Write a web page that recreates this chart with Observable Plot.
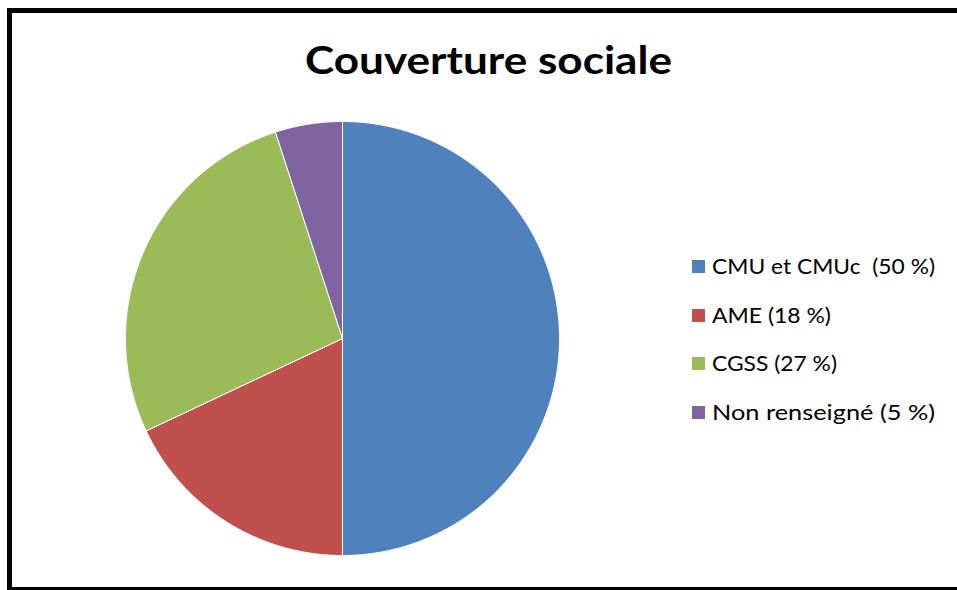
<!DOCTYPE html>
<html>
<head>
<meta charset="utf-8">
<script src="https://cdn.jsdelivr.net/npm/d3@7"></script>
<script src="https://cdn.jsdelivr.net/npm/@observablehq/plot@0.6"></script>
<style>
  html, body { margin: 0; padding: 0; background: #fff; overflow: hidden; width: 957px; height: 590px; }
  #wrap { position: relative; width: 957px; height: 590px; }
  #frame { position: absolute; left: 7px; top: 8px; width: 970px; height: 574px; border: 5px solid #000; box-sizing: content-box; pointer-events: none; }
  #title { position: absolute; left: 305px; top: 36px; font-family: Lato, "Open Sans", sans-serif; font-weight: 700; font-size: 39px; line-height: 46px; color: #000; white-space: pre; transform-origin: 0 0; }
  .leg { position: absolute; left: 692px; font-family: Lato, "Open Sans", sans-serif; font-size: 22px; line-height: 26px; color: #000; white-space: pre; }
  .leg .sw { position: absolute; left: 0; top: 7px; width: 13px; height: 13px; }
  .leg .tx { position: absolute; left: 20px; top: 0; transform-origin: 0 0; }
  #chart { position: absolute; left: 0; top: 0; }
</style>
</head>
<body>
<div id="wrap">
  <div id="chart"></div>
  <div id="title">Couverture sociale</div>
  <div id="legend"></div>
  <div id="frame"></div>
</div>
<script>
// Data
const categories = ["CMU et CMUc", "AME", "CGSS", "Non renseigné"];
const values = [50, 18, 27, 5];
const legendLabels = ["CMU et CMUc  (50 %)", "AME (18 %)", "CGSS (27 %)", "Non renseigné (5 %)"];
const colors = ["#4F81BD", "#C0504D", "#9BBB59", "#8064A2"];

// Layout
const W = 957, H = 590;
const cx = 342, cy = 338, R = 217;

// Build slice polygons (unit circle) from the data, clockwise from 12 o'clock
const total = d3.sum(values);
const arcs = d3.pie().sort(null).value(d => d)(values);
const rows = [];
arcs.forEach((a, i) => {
  const n = Math.max(2, Math.ceil((a.endAngle - a.startAngle) / (Math.PI / 360)));
  rows.push({cat: categories[i], x: 0, y: 0});
  for (let k = 0; k <= n; k++) {
    const t = a.startAngle + (a.endAngle - a.startAngle) * k / n;
    rows.push({cat: categories[i], x: Math.sin(t), y: Math.cos(t)});
  }
  rows.push({cat: categories[i], x: 0, y: 0});
});

const plot = Plot.plot({
  width: W,
  height: H,
  margin: 0,
  x: {domain: [-cx / R, (W - cx) / R], axis: null},
  y: {domain: [-(H - cy) / R, cy / R], axis: null},
  color: {domain: categories, range: colors},
  marks: [
    Plot.line(rows, {x: "x", y: "y", z: "cat", fill: "cat", stroke: "#fff", strokeWidth: 1, curve: "linear-closed"})
  ],
  style: {background: "transparent"}
});
document.getElementById("chart").appendChild(plot);

// Title width fit
const title = document.getElementById("title");
const tw = title.getBoundingClientRect().width;
title.style.transform = `scaleX(${367 / tw})`;

// Legend
const legendTargets = [223, 119, 125, 223];
const rowTops = [253, 302, 350, 399];
const leg = document.getElementById("legend");
legendLabels.forEach((lab, i) => {
  const d = document.createElement("div");
  d.className = "leg";
  d.style.top = rowTops[i] + "px";
  const sw = document.createElement("div");
  sw.className = "sw";
  sw.style.background = colors[i];
  const tx = document.createElement("span");
  tx.className = "tx";
  tx.textContent = lab;
  d.appendChild(sw);
  d.appendChild(tx);
  leg.appendChild(d);
  const w = tx.getBoundingClientRect().width;
  tx.style.transform = `scaleX(${legendTargets[i] / w})`;
});
</script>
</body>
</html>
